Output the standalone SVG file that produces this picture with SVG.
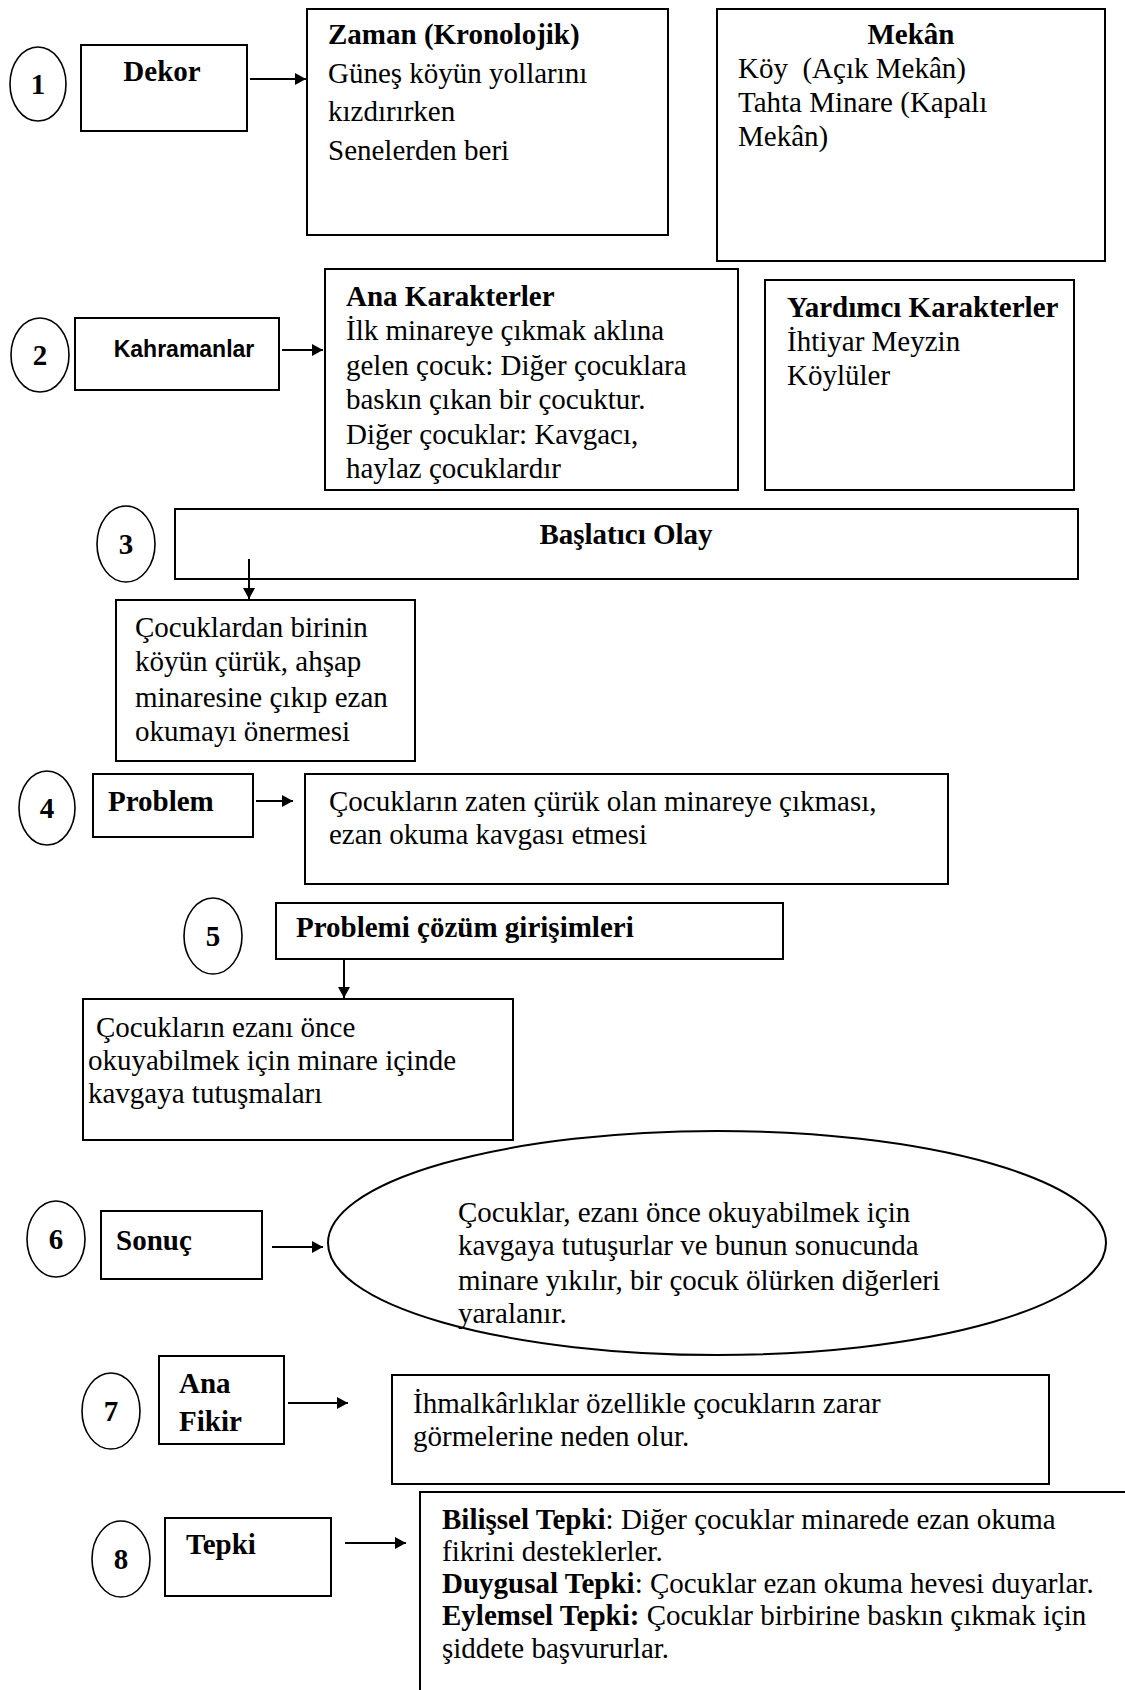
<svg xmlns="http://www.w3.org/2000/svg" width="1125" height="1690" viewBox="0 0 1125 1690">
  <style>
    .box { fill: #ffffff; stroke: #000000; stroke-width: 2; }
    .num { fill: none; stroke: #000000; stroke-width: 1.6; }
    .link { stroke: #000000; stroke-width: 2; fill: none; }
    text { font-family: "Liberation Serif", "Times New Roman", serif; font-size: 29px; fill: #000000; }
    .b { font-weight: bold; }
    .mid { text-anchor: middle; }
    .sans { font-family: "Liberation Sans", Arial, sans-serif; font-size: 23px; font-weight: bold; }
  </style>
  <defs>
    <marker id="head" markerUnits="userSpaceOnUse" markerWidth="12" markerHeight="12" refX="11" refY="6" orient="auto">
      <path d="M0,0 L11,6 L0,12 z" fill="#000000"/>
    </marker>
  </defs>

  <rect width="1125" height="1690" fill="#ffffff"/>

  <!-- 1: setting -->
  <g id="n1">
    <ellipse class="num" cx="38" cy="84" rx="28" ry="37"/>
    <text class="b mid" x="38" y="94">1</text>
  </g>
  <g id="dekor">
    <rect class="box" x="81" y="45" width="166" height="86"/>
    <text class="b mid" x="162" y="81">Dekor</text>
  </g>
  <g id="zaman">
    <rect class="box" x="307" y="9" width="361" height="226"/>
    <text x="328" y="44"><tspan class="b">Zaman (Kronolojik)</tspan></text>
    <text x="328" y="83">Güneş köyün yollarını</text>
    <text x="328" y="121">kızdırırken</text>
    <text x="328" y="160">Senelerden beri</text>
  </g>
  <g id="mekan">
    <rect class="box" x="717" y="9" width="388" height="252"/>
    <text class="b mid" x="911" y="44">Mekân</text>
    <text x="738" y="78" xml:space="preserve">Köy  (Açık Mekân)</text>
    <text x="738" y="112">Tahta Minare (Kapalı</text>
    <text x="738" y="146">Mekân)</text>
  </g>

  <!-- 2: characters -->
  <g id="n2">
    <ellipse class="num" cx="40" cy="355" rx="29" ry="37"/>
    <text class="b mid" x="40" y="365">2</text>
  </g>
  <g id="kahramanlar">
    <rect class="box" x="75" y="318" width="204" height="72"/>
    <text class="sans mid" x="184" y="357">Kahramanlar</text>
  </g>
  <g id="ana-karakterler">
    <rect class="box" x="325" y="269" width="413" height="221"/>
    <text class="b" x="346" y="306">Ana Karakterler</text>
    <text x="346" y="340">İlk minareye çıkmak aklına</text>
    <text x="346" y="375">gelen çocuk: Diğer çocuklara</text>
    <text x="346" y="409">baskın çıkan bir çocuktur.</text>
    <text x="346" y="444">Diğer çocuklar: Kavgacı,</text>
    <text x="346" y="478">haylaz çocuklardır</text>
  </g>
  <g id="yardimci">
    <rect class="box" x="765" y="280" width="309" height="210"/>
    <text class="b" x="787" y="317">Yardımcı Karakterler</text>
    <text x="787" y="351">İhtiyar Meyzin</text>
    <text x="787" y="385">Köylüler</text>
  </g>

  <!-- 3: inciting event -->
  <g id="n3">
    <ellipse class="num" cx="126" cy="544" rx="29" ry="38"/>
    <text class="b mid" x="126" y="554">3</text>
  </g>
  <g id="baslatici">
    <rect class="box" x="175" y="509" width="903" height="70"/>
    <text class="b mid" x="626" y="544">Başlatıcı Olay</text>
  </g>
  <g id="olay">
    <rect class="box" x="116" y="600" width="299" height="161"/>
    <text x="135" y="637">Çocuklardan birinin</text>
    <text x="135" y="671">köyün çürük, ahşap</text>
    <text x="135" y="707">minaresine çıkıp ezan</text>
    <text x="135" y="741">okumayı önermesi</text>
  </g>

  <!-- 4: problem -->
  <g id="n4">
    <ellipse class="num" cx="47" cy="808" rx="28" ry="37"/>
    <text class="b mid" x="47" y="818">4</text>
  </g>
  <g id="problem">
    <rect class="box" x="93" y="774" width="160" height="63"/>
    <text class="b" x="108" y="811">Problem</text>
  </g>
  <g id="problem-text">
    <rect class="box" x="305" y="774" width="643" height="110"/>
    <text x="329" y="811">Çocukların zaten çürük olan minareye çıkması,</text>
    <text x="329" y="844">ezan okuma kavgası etmesi</text>
  </g>

  <!-- 5: attempts -->
  <g id="n5">
    <ellipse class="num" cx="213" cy="936" rx="29" ry="38"/>
    <text class="b mid" x="213" y="946">5</text>
  </g>
  <g id="cozum">
    <rect class="box" x="276" y="903" width="507" height="56"/>
    <text class="b" x="296" y="937">Problemi çözüm girişimleri</text>
  </g>
  <g id="cozum-text">
    <rect class="box" x="83" y="999" width="430" height="141"/>
    <text x="96" y="1037">Çocukların ezanı önce</text>
    <text x="88" y="1070">okuyabilmek için minare içinde</text>
    <text x="88" y="1103">kavgaya tutuşmaları</text>
  </g>

  <!-- 6: outcome -->
  <g id="n6">
    <ellipse class="num" cx="56" cy="1239" rx="29" ry="38"/>
    <text class="b mid" x="56" y="1249">6</text>
  </g>
  <g id="sonuc">
    <rect class="box" x="101" y="1211" width="161" height="68"/>
    <text class="b" x="116" y="1250">Sonuç</text>
  </g>
  <g id="sonuc-text">
    <ellipse class="box" cx="717" cy="1243" rx="389" ry="112"/>
    <text x="458" y="1222">Çocuklar, ezanı önce okuyabilmek için</text>
    <text x="458" y="1255">kavgaya tutuşurlar ve bunun sonucunda</text>
    <text x="458" y="1290">minare yıkılır, bir çocuk ölürken diğerleri</text>
    <text x="458" y="1323">yaralanır.</text>
  </g>

  <!-- 7: main idea -->
  <g id="n7">
    <ellipse class="num" cx="111" cy="1411" rx="29" ry="38"/>
    <text class="b mid" x="111" y="1421">7</text>
  </g>
  <g id="ana-fikir">
    <rect class="box" x="159" y="1356" width="125" height="88"/>
    <text class="b" x="179" y="1393">Ana</text>
    <text class="b" x="179" y="1431">Fikir</text>
  </g>
  <g id="ana-fikir-text">
    <rect class="box" x="392" y="1375" width="657" height="109"/>
    <text x="413" y="1413">İhmalkârlıklar özellikle çocukların zarar</text>
    <text x="413" y="1446">görmelerine neden olur.</text>
  </g>

  <!-- 8: reactions -->
  <g id="n8">
    <ellipse class="num" cx="121" cy="1559" rx="29" ry="38"/>
    <text class="b mid" x="121" y="1569">8</text>
  </g>
  <g id="tepki">
    <rect class="box" x="165" y="1518" width="166" height="78"/>
    <text class="b" x="186" y="1554">Tepki</text>
  </g>
  <g id="tepki-text">
    <path class="box" d="M420,1695 V1492 H1130"/>
    <text x="442" y="1529"><tspan class="b">Bilişsel Tepki</tspan>: Diğer çocuklar minarede ezan okuma</text>
    <text x="442" y="1561">fikrini desteklerler.</text>
    <text x="442" y="1593"><tspan class="b">Duygusal Tepki</tspan>: Çocuklar ezan okuma hevesi duyarlar.</text>
    <text x="442" y="1625"><tspan class="b">Eylemsel Tepki:</tspan> Çocuklar birbirine baskın çıkmak için</text>
    <text x="442" y="1658">şiddete başvururlar.</text>
  </g>

  <!-- connectors -->
  <g id="connectors">
    <line class="link" x1="250" y1="79" x2="306" y2="79" marker-end="url(#head)"/>
    <line class="link" x1="282" y1="350" x2="323" y2="350" marker-end="url(#head)"/>
    <line class="link" x1="249" y1="559" x2="249" y2="599" marker-end="url(#head)"/>
    <line class="link" x1="256" y1="801" x2="293" y2="801" marker-end="url(#head)"/>
    <line class="link" x1="344" y1="959" x2="344" y2="998" marker-end="url(#head)"/>
    <line class="link" x1="272" y1="1247" x2="323" y2="1247" marker-end="url(#head)"/>
    <line class="link" x1="288" y1="1403" x2="348" y2="1403" marker-end="url(#head)"/>
    <line class="link" x1="345" y1="1543" x2="406" y2="1543" marker-end="url(#head)"/>
  </g>
</svg>
